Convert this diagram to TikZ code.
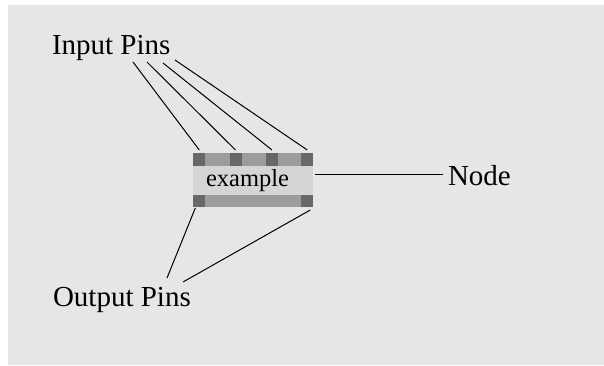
\documentclass[tikz,border=0pt]{standalone}
\usepackage{fontspec}
\setmainfont{Liberation Serif}
\definecolor{bggray}{HTML}{E6E6E6}
\definecolor{bodygray}{HTML}{D5D5D5}
\definecolor{stripgray}{HTML}{9C9C9C}
\definecolor{pingray}{HTML}{686868}

\begin{document}
\begin{tikzpicture}[
  x=1pt, y=-1pt,
  every node/.style={inner sep=0pt, outer sep=0pt},
  caption/.style={anchor=base west, font=\fontsize{29}{29}\selectfont},
  pin/.style={fill=pingray, minimum width=12pt, minimum height=12.5pt},
  wire/.style={line width=1pt},
  ]
  \useasboundingbox (0,0) rectangle (604,365);
  \fill[bggray] (8,5) rectangle (604,365);

  % the component with its pins
  \node[fill=bodygray, minimum width=120pt, minimum height=54pt] (box) at (253.3,180) {};
  \fill[stripgray] (box.north west) rectangle ++(120,12.5);
  \fill[stripgray] (box.south west) rectangle ++(120,-12.5);
  \foreach \i/\x in {1/199.3,2/235.5,3/272,4/307.3}
    \node[pin] (in\i) at (\x,159.25) {};
  \node[pin] (out1) at (199.3,200.75) {};
  \node[pin] (out2) at (307.3,200.75) {};
  \node[anchor=base, font=\fontsize{24.5}{24.5}\selectfont] (name) at (247.5,186) {example};

  % labels
  \node[caption] (inlbl) at (52,54.3) {Input Pins};
  \node[caption] (outlbl) at (53,306.5) {Output Pins};
  \node[caption] (nodelbl) at (448,185) {Node};

  % wires
  \coordinate (ia1) at (133,62);
  \coordinate (ia2) at (147,62);
  \coordinate (ia3) at (163,63);
  \coordinate (ia4) at (175,60);
  \foreach \i in {1,...,4}
    \draw[wire] (ia\i) -- ([yshift=3pt]in\i.north);
  \coordinate (oa1) at (167,278);
  \coordinate (oa2) at (183,282);
  \draw[wire] ([xshift=-4pt,yshift=-1pt]out1.south) -- (oa1);
  \draw[wire] ([xshift=3pt,yshift=-3pt]out2.south) -- (oa2);
  \coordinate (nodeend) at ([xshift=-5pt,yshift=1pt]nodelbl.west);
  \draw[wire] ([xshift=2pt]nodeend -| box.east) -- (nodeend);
\end{tikzpicture}
\end{document}
